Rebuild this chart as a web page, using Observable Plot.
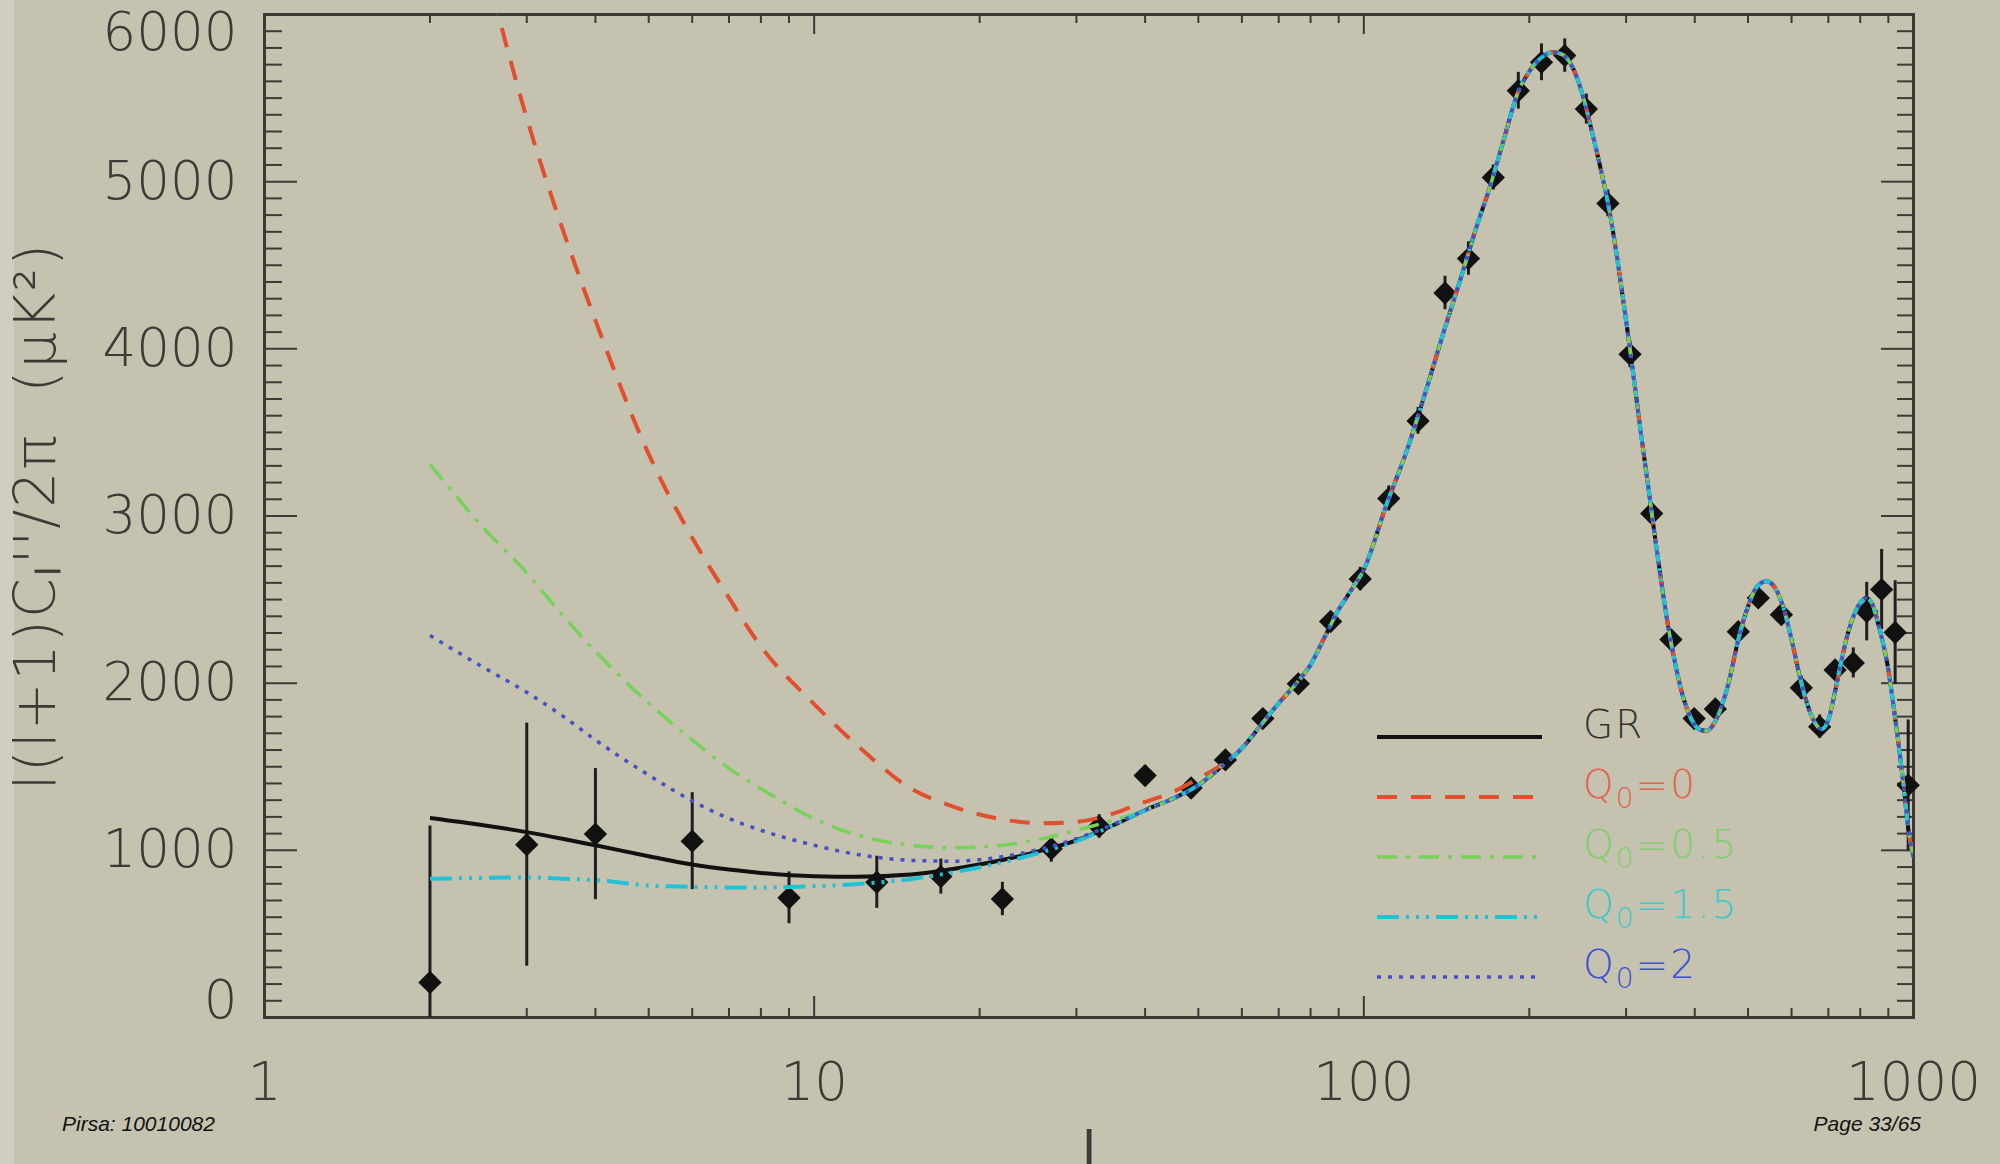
<!DOCTYPE html>
<html>
<head>
<meta charset="utf-8">
<script src="https://cdn.jsdelivr.net/npm/d3@7"></script>
<script src="https://cdn.jsdelivr.net/npm/@observablehq/plot@0.6"></script>
<style>
  html, body { margin: 0; padding: 0; background: #c5c3af; }
  #wrap {
    position: relative; width: 2000px; height: 1164px; overflow: hidden;
    background: linear-gradient(to right, #d0cec0 0px, #d0cec0 14px, #c5c3af 14px);
  }
  #wrap svg text { font-family: "DejaVu Sans", sans-serif; font-weight: 200; }
  #wrap svg g[aria-label="x-axis label"] text { font-weight: 400; }
  #wrap svg g[aria-label="y-axis label"] text { letter-spacing: 2px; }
  .cap { position: absolute; font-family: "Liberation Sans", Arial, sans-serif; font-style: italic; font-size: 21px; color: #111; line-height: 1; }
</style>
</head>
<body>
<div id="wrap"></div>
<script>
// ---------- data ----------
// multipole l for the low-l model curves (where the models differ)
const ellLow = [2, 2.5, 3, 3.5, 4, 5, 6, 7, 8, 10, 12, 15, 18, 22, 26, 30, 35, 40, 45, 50, 55];
const grLow  = [1193, 1150, 1109, 1068, 1030, 965, 915, 885, 865, 845, 842, 855, 890, 942, 1000, 1060, 1150, 1240, 1310, 1390, 1500];
const q0Low  = [7700, 6350, 5380, 4700, 4170, 3370, 2870, 2510, 2220, 1875, 1625, 1370, 1259, 1185, 1162, 1170, 1220, 1290, 1350, 1430, 1510];
const q05Low = [3310, 2930, 2660, 2400, 2190, 1880, 1660, 1490, 1370, 1190, 1090, 1030, 1015, 1030, 1070, 1120, 1180, 1240, 1310, 1390, 1500];
const q15Low = [830, 835, 838, 830, 822, 790, 782, 778, 778, 785, 798, 828, 870, 928, 990, 1055, 1150, 1240, 1310, 1390, 1500];
const q2Low  = [2285, 2095, 1945, 1800, 1660, 1450, 1295, 1190, 1120, 1030, 975, 940, 935, 962, 1010, 1070, 1155, 1240, 1310, 1390, 1500];

// shared part of all model curves (l >= 60, all curves coincide)
const ellHigh = [60, 65, 70, 75, 80, 85, 90, 95, 100, 110, 120, 130, 140, 150, 160, 170, 180, 190, 200, 210, 220, 230, 240, 250, 260, 270, 280, 290, 300, 310, 320, 330, 340, 350, 360, 370, 380, 390, 400, 410, 420, 430, 440, 460, 480, 500, 520, 540, 560, 580, 600, 620, 640, 660, 680, 700, 720, 740, 760, 780, 800, 820, 840, 860, 880, 900, 920, 940, 960, 980, 1000];
const clHigh  = [1610, 1750, 1880, 1990, 2110, 2280, 2440, 2560, 2680, 3070, 3400, 3760, 4110, 4420, 4720, 4980, 5260, 5520, 5660, 5740, 5774, 5760, 5680, 5520, 5300, 5070, 4820, 4510, 4170, 3820, 3470, 3150, 2830, 2540, 2290, 2090, 1930, 1820, 1750, 1720, 1715, 1740, 1800, 1990, 2260, 2460, 2580, 2610, 2570, 2450, 2260, 2050, 1880, 1770, 1725, 1780, 1950, 2140, 2300, 2410, 2480, 2510, 2480, 2370, 2240, 2080, 1860, 1630, 1380, 1110, 960];

// measured band powers with 1-sigma errors
const ellData = [2, 3, 4, 6, 9, 13, 17, 22, 27, 33, 40, 48.5, 56, 65.5, 76, 87, 98.5, 111, 125.5, 140.5, 155, 172, 191, 210.5, 232, 254, 278, 305, 334, 362, 399, 436, 480, 522, 575, 625, 675, 720, 777, 822, 875, 926, 978];
const clData  = [210, 1034, 1097, 1055, 716, 809, 843, 709, 1009, 1143, 1447, 1373, 1541, 1788, 1996, 2369, 2623, 3105, 3569, 4334, 4540, 5025, 5544, 5714, 5754, 5434, 4870, 3967, 3015, 2261, 1788, 1846, 2308, 2510, 2410, 1972, 1740, 2079, 2121, 2428, 2560, 2303, 1390];
const errData = [935, 727, 392, 290, 155, 156, 105, 100, 80, 70, 60, 55, 55, 55, 55, 60, 70, 75, 80, 100, 100, 75, 110, 110, 100, 90, 80, 80, 60, 60, 50, 50, 60, 60, 60, 70, 70, 50, 90, 175, 240, 310, 390];

// axis ticks
const xMajorTicks = [1, 10, 100, 1000];
const xMinorTicks = [2, 3, 4, 5, 6, 7, 8, 9, 20, 30, 40, 50, 60, 70, 80, 90, 200, 300, 400, 500, 600, 700, 800, 900];
const yMajorTicks = [0, 1000, 2000, 3000, 4000, 5000, 6000];
const yMinorTicks = d3.range(100, 6000, 100).filter(v => v % 1000 !== 0);
const yLabelTicksMid = [1000, 2000, 3000, 4000, 5000];
const yLabelTop = [6000];
const yLabelBottom = [0];

// series names, colours and labels
const seriesNames  = ["GR", "Q0=0", "Q0=0.5", "Q0=1.5", "Q0=2"];
const seriesLow    = [grLow, q0Low, q05Low, q15Low, q2Low];
const lineColors   = ["#111111", "#e0502f", "#78d15a", "#22c2d6", "#4650c4"];
const textColors   = ["#333330", "#e1644e", "#82cd6e", "#3ec8cc", "#3c50d2"];
const legendLabels = [["GR", ""], ["Q", "=0"], ["Q", "=0.5"], ["Q", "=1.5"], ["Q", "=2"]];
const yTitle = "l(l+1)Cₗ''/2π  (μK²)";
const xTitle = "l";

// ---------- styling / layout ----------
const W = 2000, H = 1164;
const mL = 264, mR = 87, mT = 14, mB = 147;
const plotW = W - mL - mR, plotH = H - mT - mB;
const axisColor = "#3a3a36";
const lineStyles = [
  {width: 4, dash: null},
  {width: 4, dash: "20,14"},
  {width: 3.5, dash: "20,9,4,9"},
  {width: 4, dash: "22,7,3,7,3,7,3,7"},
  {width: 3.5, dash: "4,7"}
];

const ellAll = ellLow.concat(ellHigh);
const curves = seriesNames.map((name, k) => {
  const vals = seriesLow[k].concat(clHigh);
  return ellAll.map((l, i) => ({series: name, l, v: vals[i]}));
});
const points = ellData.map((l, i) => ({l, v: clData[i], e: errData[i]}));

// draw order: GR, Q0=0, Q0=0.5, Q0=1.5 (cyan), then blue dots on top
const curveMarks = seriesNames.map((name, k) => Plot.line(curves[k], {
  x: "l", y: "v", stroke: lineColors[k], strokeWidth: lineStyles[k].width,
  strokeDasharray: lineStyles[k].dash, strokeLinecap: "butt",
  curve: "monotone-x", clip: true
}));

const axisFont = {fontSize: 53, fill: axisColor};
const fmt = d => String(d);

const chart = Plot.plot({
  width: W, height: H,
  marginLeft: mL, marginRight: mR, marginTop: mT, marginBottom: mB,
  style: {background: "transparent", color: axisColor, overflow: "visible"},
  x: {type: "log", domain: [1, 1000]},
  y: {domain: [0, 6000]},
  marks: [
    // inward ticks, bottom & top
    Plot.tickX(xMinorTicks, {x: d => d, insetTop: plotH - 9, stroke: axisColor, strokeWidth: 2}),
    Plot.tickX(xMinorTicks, {x: d => d, insetBottom: plotH - 9, stroke: axisColor, strokeWidth: 2}),
    Plot.tickX(xMajorTicks, {x: d => d, insetTop: plotH - 21, stroke: axisColor, strokeWidth: 2}),
    Plot.tickX(xMajorTicks, {x: d => d, insetBottom: plotH - 20, stroke: axisColor, strokeWidth: 2}),
    // inward ticks, left & right
    Plot.tickY(yMinorTicks, {y: d => d, insetRight: plotW - 18, stroke: axisColor, strokeWidth: 2}),
    Plot.tickY(yMinorTicks, {y: d => d, insetLeft: plotW - 16, stroke: axisColor, strokeWidth: 2}),
    Plot.tickY(yMajorTicks, {y: d => d, insetRight: plotW - 33, stroke: axisColor, strokeWidth: 2}),
    Plot.tickY(yMajorTicks, {y: d => d, insetLeft: plotW - 32, stroke: axisColor, strokeWidth: 2}),
    Plot.frame({stroke: axisColor, strokeWidth: 3}),
    // tick labels and axis titles
    Plot.axisX(xMajorTicks, {tickSize: 0, tickPadding: 45, tickFormat: fmt, ...axisFont,
      label: xTitle, labelAnchor: "center", labelOffset: 152, labelArrow: "none"}),
    Plot.axisY(yLabelTicksMid, {tickSize: 0, tickPadding: 27, tickFormat: fmt, ...axisFont, label: null}),
    Plot.axisY([], {tickSize: 0, fontSize: 57, fill: axisColor,
      label: yTitle, labelAnchor: "center", labelOffset: 250, labelArrow: "none"}),
    Plot.axisY(yLabelTop, {tickSize: 0, tickPadding: 27, dy: 19, tickFormat: fmt, ...axisFont, label: null}),
    Plot.axisY(yLabelBottom, {tickSize: 0, tickPadding: 27, dy: -16, tickFormat: fmt, ...axisFont, label: null}),
    // data: error bars + diamonds
    Plot.ruleX(points, {x: "l", y1: d => d.v - d.e, y2: d => d.v + d.e, stroke: "#1e1e1e", strokeWidth: 3, clip: true}),
    Plot.dot(points, {x: "l", y: "v", symbol: "diamond2", r: 10.5, fill: "#111", stroke: "none"}),
    // model curves
    ...curveMarks
  ]
});

const wrap = document.getElementById("wrap");
chart.style.position = "absolute";
chart.style.left = "0px";
chart.style.top = "0px";
wrap.appendChild(chart);

// legend overlay (inside the plot frame, lower right)
const leg = d3.select(wrap).append("svg")
  .attr("width", W).attr("height", H)
  .style("position", "absolute").style("left", "0px").style("top", "0px");
seriesNames.forEach((name, k) => {
  const yLine = 737 + 60 * k;
  leg.append("line")
    .attr("x1", 1377).attr("x2", 1542).attr("y1", yLine).attr("y2", yLine)
    .attr("stroke", lineColors[k]).attr("stroke-width", lineStyles[k].width)
    .attr("stroke-dasharray", lineStyles[k].dash);
  const t = leg.append("text")
    .attr("x", 1583).attr("y", yLine + 1)
    .attr("fill", textColors[k]).attr("font-size", 39).style("letter-spacing", "2px");
  const [main, rest] = legendLabels[k];
  t.append("tspan").text(main);
  if (rest) {
    t.append("tspan").attr("font-size", 28).attr("dy", 10).text("0");
    t.append("tspan").attr("dy", -10).text(rest);
  }
});

// slide captions
const c1 = document.createElement("div");
c1.className = "cap"; c1.textContent = "Pirsa: 10010082";
c1.style.left = "62px"; c1.style.top = "1113px";
wrap.appendChild(c1);
const c2 = document.createElement("div");
c2.className = "cap"; c2.textContent = "Page 33/65";
c2.style.right = "79px"; c2.style.top = "1113px";
wrap.appendChild(c2);
</script>
</body>
</html>
